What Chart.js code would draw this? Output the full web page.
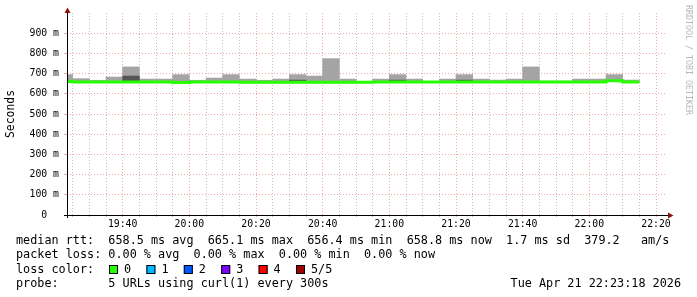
<!DOCTYPE html>
<html>
<head>
<meta charset="utf-8">
<script src="https://cdn.jsdelivr.net/npm/chart.js@4/dist/chart.umd.min.js"></script>
<style>
  html, body { margin: 0; padding: 0; background: #fff; }
  #wrap { width: 697px; height: 297px; }
</style>
</head>
<body>
<div id="wrap"><canvas id="rtt" width="697" height="297"></canvas></div>
<script>
// 5-minute slots (slot start), values in ms
const slotTimes = ['19:20','19:25','19:30','19:35','19:40','19:45','19:50','19:55',
  '20:00','20:05','20:10','20:15','20:20','20:25','20:30','20:35','20:40','20:45','20:50','20:55',
  '21:00','21:05','21:10','21:15','21:20','21:25','21:30','21:35','21:40','21:45','21:50','21:55',
  '22:00','22:05','22:10'];
const medianRtt = [662, 659, 659, 659, 659, 659, 659, 656.4,
  659, 659, 659, 657, 657, 657, 657, 657, 657, 657, 657, 658,
  658, 658, 658, 658, 658, 658, 658, 658, 658, 658, 658, 658,
  658, 665.1, 658.8];
const smokeLow = [657, 656, 656, 656, 656, 656, 656, 654,
  656, 656, 656, 654, 654, 654, 654, 654, 654, 654, 654, 655,
  655, 655, 655, 655, 655, 655, 655, 655, 655, 655, 655, 655,
  655, 662, 656];
const smokeHigh = [695, 675, 667, 683, 733, 673, 673, 695,
  667, 678, 695, 673, 667, 673, 695, 688, 774, 673, 660, 673,
  695, 673, 661, 673, 695, 673, 668, 673, 733, 663, 663, 673,
  673, 695, 668];
// darker inner smoke band (null = not visible)
const innerLow = [657, null, null, null, 659, null, null, null,
  null, null, null, null, null, null, 657, null, null, null, null, null,
  658, null, null, null, 658, null, null, null, null, null, null, null,
  null, null, null];
const innerHigh = [662, null, null, null, 688, null, null, null,
  null, null, null, null, null, null, 668, null, null, null, null, null,
  668, null, null, null, 668, null, null, null, null, null, null, null,
  null, null, null];

const xTickStep = 5;      // minor grid, minutes
const xLabelStep = 20;    // labelled grid, minutes
const yTickStep = 50;     // ms
const viewStart = '19:23:18';
const viewEnd = '22:23:18';

const lossLabels = ['0', '1', '2', '3', '4', '5/5'];
const lossColors = ['#26ff00', '#00b8ff', '#0059ff', '#7e00ff', '#ff0000', '#a10000'];

function toMin(s) {
  const p = s.split(':').map(Number);
  return p[0] * 60 + p[1] + (p[2] || 0) / 60;
}
function fmtMin(v) {
  const h = Math.floor(v / 60), m = Math.round(v % 60);
  return h + ':' + String(m).padStart(2, '0');
}

const slotMid = slotTimes.map(t => toMin(t) + 2.5);
const smokeData = slotMid.map((x, i) => ({ x: x, y: [smokeLow[i], smokeHigh[i]] }));
const innerData = slotMid.map((x, i) => ({ x: x, y: innerLow[i] == null ? null : [innerLow[i], innerHigh[i]] }));
const medianData = [];
slotTimes.forEach((t, i) => {
  medianData.push({ x: toMin(t), y: medianRtt[i] });
  medianData.push({ x: toMin(t) + 5, y: medianRtt[i] });
});

const MONO = '"DejaVu Sans Mono", monospace';
const majorGrid = 'rgba(235,110,110,0.6)';
const minorGrid = 'rgba(170,170,170,0.75)';

const frame = {
  id: 'frame',
  afterDraw(chart) {
    const ctx = chart.ctx, a = chart.chartArea;
    ctx.save();
    // axes
    ctx.strokeStyle = '#000';
    ctx.lineWidth = 1;
    ctx.beginPath();
    ctx.moveTo(a.left - 3, a.bottom + 0.5);
    ctx.lineTo(a.right + 3, a.bottom + 0.5);
    ctx.moveTo(a.left + 0.5, a.bottom + 3);
    ctx.lineTo(a.left + 0.5, a.top - 3);
    ctx.stroke();
    ctx.fillStyle = '#8b1010';
    ctx.beginPath();
    ctx.moveTo(a.right + 1, a.bottom - 2.5);
    ctx.lineTo(a.right + 1, a.bottom + 3.5);
    ctx.lineTo(a.right + 6.5, a.bottom + 0.5);
    ctx.closePath();
    ctx.fill();
    ctx.beginPath();
    ctx.moveTo(a.left - 2.5, a.top);
    ctx.lineTo(a.left + 3.5, a.top);
    ctx.lineTo(a.left + 0.5, a.top - 5.5);
    ctx.closePath();
    ctx.fill();

    // vertical title
    ctx.fillStyle = '#000';
    ctx.font = '11.4px ' + MONO;
    ctx.textAlign = 'center';
    ctx.textBaseline = 'middle';
    ctx.save();
    ctx.translate(11.5, 114);
    ctx.rotate(-Math.PI / 2);
    ctx.fillText('Seconds', 0, 0);
    ctx.restore();

    // watermark
    ctx.save();
    ctx.fillStyle = '#b8b8b8';
    ctx.font = '8.3px ' + MONO;
    ctx.textAlign = 'left';
    ctx.translate(688.5, 5);
    ctx.rotate(Math.PI / 2);
    ctx.fillText('RRDTOOL / TOBI OETIKER', 0, 0);
    ctx.restore();

    // legend
    ctx.font = '11.8px ' + MONO;
    ctx.textAlign = 'left';
    ctx.fillStyle = '#000';
    ctx.fillText('median rtt:  658.5 ms avg  665.1 ms max  656.4 ms min  658.8 ms now  1.7 ms sd  379.2   am/s', 16, 241);
    ctx.fillText('packet loss: 0.00 % avg  0.00 % max  0.00 % min  0.00 % now', 16, 255.3);
    ctx.fillText('loss color:', 16, 269.6);
    lossLabels.forEach((lab, i) => {
      const bx = 109 + i * 37.4;
      ctx.fillStyle = lossColors[i];
      ctx.fillRect(bx, 265, 9, 9);
      ctx.strokeStyle = '#000';
      ctx.strokeRect(bx + 0.5, 265.5, 8, 8);
      ctx.fillStyle = '#000';
      ctx.fillText(lab, bx + 15, 269.6);
    });
    ctx.fillText('probe:       5 URLs using curl(1) every 300s', 16, 283.9);
    ctx.textAlign = 'right';
    ctx.fillText('Tue Apr 21 22:23:18 2026', 681, 283.9);
    ctx.restore();
  }
};

new Chart(document.getElementById('rtt'), {
  type: 'bar',
  data: {
    datasets: [
      {
        type: 'line', data: medianData, borderColor: '#26ff00', borderWidth: 3,
        pointRadius: 0, tension: 0, borderCapStyle: 'butt', borderJoinStyle: 'miter',
        order: 0, clip: 0
      },
      {
        data: innerData, backgroundColor: '#555555', borderWidth: 0,
        grouped: false, barPercentage: 1, categoryPercentage: 1, order: 1, clip: 0
      },
      {
        data: smokeData, backgroundColor: '#a4a4a4', borderWidth: 0,
        grouped: false, barPercentage: 1, categoryPercentage: 1, order: 2, clip: 0
      }
    ]
  },
  options: {
    responsive: false,
    devicePixelRatio: 1,
    animation: false,
    events: [],
    layout: { padding: { left: 0, right: 30, top: 13, bottom: 0 } },
    plugins: { legend: { display: false }, tooltip: { enabled: false } },
    scales: {
      x: {
        type: 'linear',
        min: toMin(viewStart),
        max: toMin(viewEnd),
        offset: false,
        z: 1,
        afterBuildTicks(scale) {
          const ticks = [];
          for (let v = Math.ceil(scale.min / xTickStep) * xTickStep; v <= scale.max; v += xTickStep) ticks.push({ value: v });
          scale.ticks = ticks;
        },
        afterFit(scale) { scale.height = 82; },
        grid: {
          offset: false,
          color: c => (c.tick && c.tick.value % xLabelStep === 0) ? majorGrid : minorGrid,
          drawTicks: true,
          tickLength: 2,
          borderDash: [1, 2]
        },
        border: { display: false, dash: [1, 2] },
        ticks: {
          autoSkip: false,
          maxRotation: 0,
          padding: 2,
          color: '#000',
          font: { family: MONO, size: 9.8 },
          callback: v => v % xLabelStep === 0 ? fmtMin(v) : ''
        }
      },
      y: {
        min: 0,
        max: 1000,
        z: 1,
        afterBuildTicks(scale) {
          const ticks = [];
          for (let v = 0; v <= 1000; v += yTickStep) ticks.push({ value: v });
          scale.ticks = ticks;
        },
        afterFit(scale) { scale.width = 67; },
        grid: {
          color: c => {
            const v = c.tick ? c.tick.value : 0;
            if (v === 0 || v === 1000) return 'rgba(0,0,0,0)';
            return v % 100 === 0 ? majorGrid : minorGrid;
          },
          drawTicks: true,
          tickLength: 3,
          borderDash: [1, 2]
        },
        border: { display: false, dash: [1, 2] },
        ticks: {
          padding: 5,
          color: '#000',
          font: { family: MONO, size: 9.8 },
          callback: v => (v % 100 !== 0 || v === 1000) ? '' : (v === 0 ? '0  ' : v + ' m')
        }
      }
    }
  },
  plugins: [frame]
});
</script>
</body>
</html>
